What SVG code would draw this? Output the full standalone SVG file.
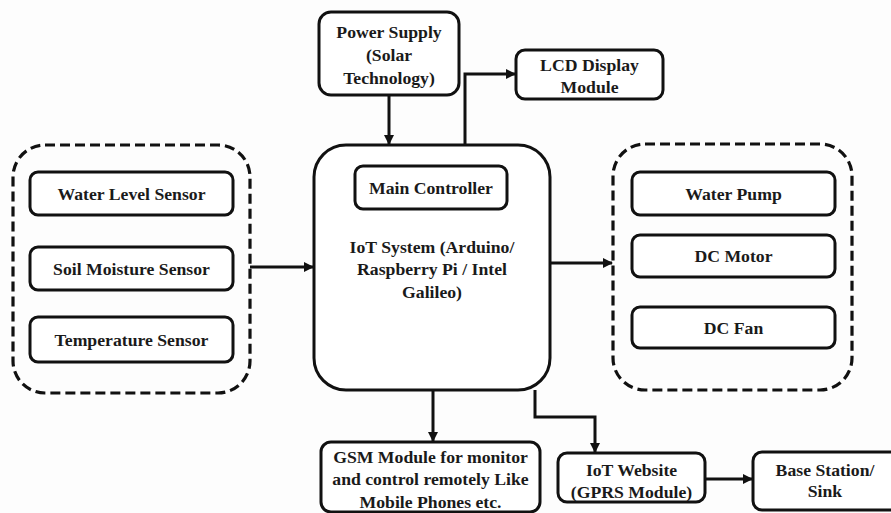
<svg xmlns="http://www.w3.org/2000/svg" width="891" height="513" viewBox="0 0 891 513">
<style>
  .box { fill: #ffffff; stroke: #111; stroke-width: 3; }
  .dash { fill: none; stroke: #111; stroke-width: 3.2; stroke-dasharray: 10 5; }
  .t { font-family: "Liberation Serif", "Times New Roman", serif; font-weight: bold; font-size: 17.7px; fill: #1a1a1a; text-anchor: middle; }
  .c { fill: none; stroke: #111; stroke-width: 3; }
</style>
<defs>
  <marker id="ah" markerWidth="10" markerHeight="10" refX="9" refY="5" orient="auto" markerUnits="userSpaceOnUse">
    <path d="M0,0 L10,5 L0,10 Z" fill="#111"/>
  </marker>
</defs>
<rect width="891" height="513" fill="#fdfdfd"/>

<g id="connectors">
  <path class="c" d="M389,95 V144" marker-end="url(#ah)"/>
  <path class="c" d="M465,145 V74 H515" marker-end="url(#ah)"/>
  <path class="c" d="M250,267 H313" marker-end="url(#ah)"/>
  <path class="c" d="M550,263 H612" marker-end="url(#ah)"/>
  <path class="c" d="M433,390 V441" marker-end="url(#ah)"/>
  <path class="c" d="M535,390 V417 H595 V452" marker-end="url(#ah)"/>
  <path class="c" d="M705,479 H752" marker-end="url(#ah)"/>
</g>

<g id="power-supply">
  <rect class="box" x="319" y="12" width="140" height="83" rx="12"/>
  <text class="t" x="389" y="38">Power Supply</text>
  <text class="t" x="389" y="61">(Solar</text>
  <text class="t" x="389" y="84">Technology)</text>
</g>

<g id="lcd-display">
  <rect class="box" x="516" y="50" width="147" height="49" rx="9"/>
  <text class="t" x="589.5" y="71">LCD Display</text>
  <text class="t" x="589.5" y="93">Module</text>
</g>

<g id="sensors">
  <rect class="dash" x="13" y="145" width="237" height="248" rx="32"/>
  <g id="water-level-sensor">
    <rect class="box" x="30" y="172" width="203" height="43" rx="8"/>
    <text class="t" x="131.5" y="199.5">Water Level Sensor</text>
  </g>
  <g id="soil-moisture-sensor">
    <rect class="box" x="30" y="247" width="203" height="43" rx="8"/>
    <text class="t" x="131.5" y="274.5">Soil Moisture Sensor</text>
  </g>
  <g id="temperature-sensor">
    <rect class="box" x="30" y="317" width="203" height="45" rx="8"/>
    <text class="t" x="131.5" y="345.5">Temperature Sensor</text>
  </g>
</g>

<g id="iot-system">
  <rect class="box" x="314" y="145" width="236" height="245" rx="32"/>
  <g id="main-controller">
    <rect class="box" x="355" y="166" width="152" height="43" rx="8"/>
    <text class="t" x="431" y="194">Main Controller</text>
  </g>
  <text class="t" x="432" y="253">IoT System (Arduino/</text>
  <text class="t" x="432" y="275">Raspberry Pi / Intel</text>
  <text class="t" x="432" y="298">Galileo)</text>
</g>

<g id="actuators">
  <rect class="dash" x="613" y="144" width="239" height="246" rx="32"/>
  <g id="water-pump">
    <rect class="box" x="632" y="172" width="203" height="43" rx="8"/>
    <text class="t" x="733.5" y="199.5">Water Pump</text>
  </g>
  <g id="dc-motor">
    <rect class="box" x="632" y="235" width="203" height="42" rx="8"/>
    <text class="t" x="733.5" y="262">DC Motor</text>
  </g>
  <g id="dc-fan">
    <rect class="box" x="632" y="307" width="203" height="41" rx="8"/>
    <text class="t" x="733.5" y="333.5">DC Fan</text>
  </g>
</g>

<g id="gsm-module">
  <rect class="box" x="321" y="442" width="219" height="70" rx="10"/>
  <text class="t" x="430.5" y="463">GSM Module for monitor</text>
  <text class="t" x="430.5" y="485">and control remotely Like</text>
  <text class="t" x="430.5" y="508">Mobile Phones etc.</text>
</g>

<g id="iot-website">
  <rect class="box" x="558" y="453" width="147" height="49" rx="9"/>
  <text class="t" x="631.5" y="476">IoT Website</text>
  <text class="t" x="631.5" y="498">(GPRS Module)</text>
</g>

<g id="base-station">
  <rect class="box" x="753" y="452" width="146" height="58" rx="9"/>
  <text class="t" x="825" y="476">Base Station/</text>
  <text class="t" x="825" y="497">Sink</text>
</g>
</svg>
